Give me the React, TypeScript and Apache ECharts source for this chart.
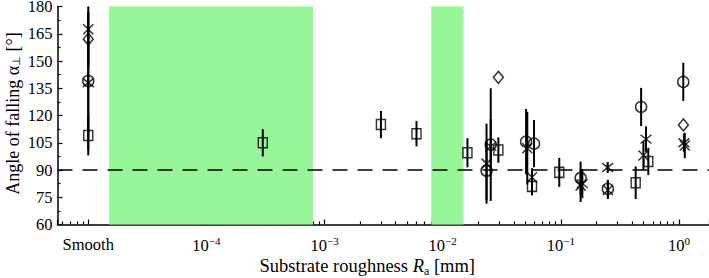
import React, { useEffect, useRef } from "react";
import * as echarts from "echarts";

// ---- data (Ra in mm, angle in degrees, symmetric error in degrees) ----
const smoothRa = 1e-5;
const greenBands: [number, number][] = [
  [1.5e-5, 8e-4],
  [8e-3, 0.015],
];
const refAngle = 90;

const squareRa = [smoothRa, 3.0e-4, 3.0e-3, 6.0e-3, 0.0162, 0.0296, 0.057, 0.097, 0.43, 0.55];
const squareAngle = [109, 105, 115, 110, 99.5, 101, 81, 88.7, 83, 94.7];
const squareErr = [11, 7.5, 7.5, 7, 8, 7, 5, 8, 9, 7.5];

const circleRa = [smoothRa, 0.0235, 0.0255, 0.0508, 0.0593, 0.147, 0.25, 0.478, 1.087];
const circleAngle = [139, 89.6, 104, 105.6, 104.5, 85.6, 79.6, 124.7, 138.5];
const circleErr = [38, 16, 31, 18, 13, 9, 5, 10.5, 10.5];

const diamondRa = [smoothRa, 0.0296, 1.09];
const diamondAngle = [162, 141, 114.8];
const diamondErr = [15, 0, 0];

const crossRa = [smoothRa, 0.0235, 0.052, 0.057, 0.147, 0.25, 0.5, 1.12];
const crossAngle = [167.5, 93.5, 102, 86, 81.4, 79, 98, 103.5];
const crossErr = [20, 22, 20, 5, 9, 5, 8, 7];

const starRa = [smoothRa, 0.0255, 0.152, 0.249, 0.526, 1.1];
const starAngle = [138, 103, 82.5, 91.4, 107, 105];
const starErr = [30, 15, 8, 3, 7, 5];

const yTicks = { min: 60, max: 180, interval: 15 };
const xRange = { min: 5.49e-6, max: 1.795 };

const FONT = "Liberation Serif";

function errData(ra: number[], ang: number[], err: number[]) {
  return ra.map((r, i) => [
    r,
    Math.max(yTicks.min, ang[i] - err[i]),
    Math.min(yTicks.max, ang[i] + err[i]),
  ]);
}

export default function App() {
  const ref = useRef<HTMLDivElement>(null);
  useEffect(() => {
    if (!ref.current) return;
    const chart = echarts.init(ref.current, null, { renderer: "svg" });

    const errBars = [
      ...errData(squareRa, squareAngle, squareErr),
      ...errData(circleRa, circleAngle, circleErr),
      ...errData(diamondRa, diamondAngle, diamondErr),
      ...errData(crossRa, crossAngle, crossErr),
      ...errData(starRa, starAngle, starErr),
    ];

    const markerStyle = {
      color: "rgba(0,0,0,0)",
      borderColor: "#000",
      borderWidth: 1.5,
    };

    const pts = (ra: number[], ang: number[]) => ra.map((r, i) => [r, ang[i]]);

    chart.setOption({
      animation: false,
      grid: {
        left: 57.5,
        right: 0,
        top: 6.5,
        bottom: 53.5,
        containLabel: false,
        outerBoundsMode: "none",
      },
      xAxis: {
        type: "log",
        logBase: 10,
        min: xRange.min,
        max: xRange.max,
        name: "{n|Substrate roughness }{i|R}{sub|a}{n| [mm]}",
        nameLocation: "middle",
        nameGap: 31,
        nameMoveOverlap: false,
        nameTextStyle: {
          padding: [0, 32, 0, 0],
          rich: {
            n: { fontFamily: FONT, fontSize: 18.5, color: "#000" },
            i: { fontFamily: FONT, fontSize: 18.5, color: "#000", fontStyle: "italic" },
            sub: { fontFamily: FONT, fontSize: 12, color: "#000", verticalAlign: "bottom", padding: [9, 0, 0, 0] },
          },
        },
        axisLine: { lineStyle: { color: "#000", width: 1.5 } },
        axisTick: { inside: true, length: 5, lineStyle: { color: "#000", width: 1.2 } },
        minorTick: { show: true, splitNumber: 9, length: 3, lineStyle: { color: "#000", width: 1.2 } },
        splitLine: { show: false },
        minorSplitLine: { show: false },
        axisLabel: {
          showMinLabel: false,
          showMaxLabel: false,
          margin: 11,
          color: "#000",
          fontFamily: FONT,
          fontSize: 16.5,
          formatter: (v: number) => {
            const e = Math.round(Math.log10(v));
            if (Math.abs(Math.log10(v) - e) > 1e-6) return "";
            if (e === Math.round(Math.log10(smoothRa))) return "{w|Smooth}";
            return `{b|10}{s|${e < 0 ? "\u2212" + -e : String(e)}}`;
          },
          rich: {
            w: { fontFamily: FONT, fontSize: 16.5, color: "#000" },
            b: { fontFamily: FONT, fontSize: 16.5, color: "#000" },
            s: { fontFamily: FONT, fontSize: 11, color: "#000", verticalAlign: "top", padding: [0, 0, 8, 0] },
          },
        },
      },
      yAxis: {
        type: "value",
        min: yTicks.min,
        max: yTicks.max,
        interval: yTicks.interval,
        name: "{n|Angle of falling }{g|\u03b1}{sub|\u22a5}{n| [\u00b0]}",
        nameLocation: "middle",
        nameRotate: 90,
        nameGap: 36,
        nameMoveOverlap: false,
        nameTextStyle: {
          padding: [0, 0, 0, 4],
          rich: {
            n: { fontFamily: FONT, fontSize: 18, color: "#000", lineHeight: 18 },
            g: { fontFamily: FONT, fontSize: 18, color: "#000", lineHeight: 18 },
            sub: { fontFamily: FONT, fontSize: 11, color: "#000", verticalAlign: "bottom", lineHeight: 11, padding: [6, 0, 0, 0] },
          },
        },
        axisLine: { show: true, lineStyle: { color: "#000", width: 1.5 } },
        axisTick: { inside: true, length: 5, lineStyle: { color: "#000", width: 1.2 } },
        minorTick: { show: true, splitNumber: 2, length: 3, lineStyle: { color: "#000", width: 1.2 } },
        splitLine: { show: false },
        axisLabel: { color: "#000", fontFamily: FONT, fontSize: 16.5, lineHeight: 12, margin: 5 },
      },
      series: [
        {
          type: "line",
          data: [],
          z: 0,
          silent: true,
          markArea: {
            silent: true,
            itemStyle: { color: "#98f598", opacity: 1 },
            data: greenBands.map(([a, b]) => [{ xAxis: a }, { xAxis: b }]),
          },
          markLine: {
            silent: true,
            symbol: "none",
            label: { show: false },
            lineStyle: { color: "#000", width: 1.5, type: [15, 10] },
            data: [{ yAxis: refAngle }],
          },
        },
        {
          type: "custom",
          z: 2,
          data: errBars,
          encode: { x: 0, y: [1, 2] },
          renderItem: (_p: any, api: any) => {
            const a = api.coord([api.value(0), api.value(1)]);
            const b = api.coord([api.value(0), api.value(2)]);
            return {
              type: "line",
              shape: { x1: a[0], y1: a[1], x2: b[0], y2: b[1] },
              style: { stroke: "#000", lineWidth: 2 },
            };
          },
        },
        {
          type: "scatter",
          z: 3,
          symbol: "rect",
          symbolSize: [9, 10],
          itemStyle: markerStyle,
          data: pts(squareRa, squareAngle),
        },
        {
          type: "scatter",
          z: 3,
          symbol: "circle",
          symbolSize: 11,
          itemStyle: markerStyle,
          data: pts(circleRa, circleAngle),
        },
        {
          type: "scatter",
          z: 3,
          symbol: "diamond",
          symbolSize: [10, 12],
          itemStyle: markerStyle,
          data: pts(diamondRa, diamondAngle),
        },
        {
          type: "scatter",
          z: 3,
          symbol: "path://M0 0L10 10M10 0L0 10",
          symbolSize: 10,
          itemStyle: markerStyle,
          data: pts(crossRa, crossAngle),
        },
        {
          type: "scatter",
          z: 3,
          symbol: "path://M1 1L9 9M9 1L1 9M5 0L5 10",
          symbolSize: 11,
          itemStyle: markerStyle,
          data: pts(starRa, starAngle),
        },
      ],
    });
    return () => chart.dispose();
  }, []);
  return (
    <div
      ref={ref}
      style={{ position: "fixed", left: 0, top: 0, width: 709, height: 278, background: "#fff" }}
    />
  );
}
